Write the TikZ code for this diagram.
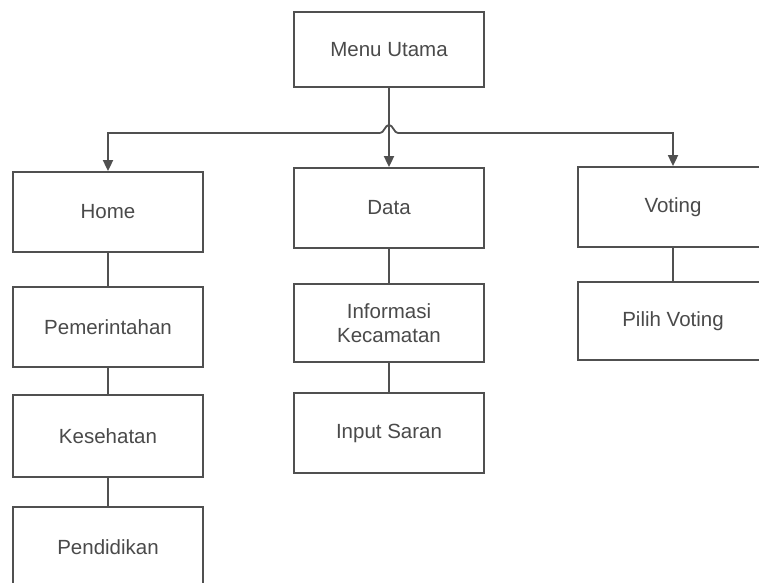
\documentclass[tikz,border=0pt]{standalone}
\usepackage{fontspec}
\setmainfont{Liberation Sans}
\usetikzlibrary{arrows.meta}
\definecolor{inkline}{HTML}{505050}
\definecolor{inktext}{HTML}{4A4A4A}
\begin{document}
\begin{tikzpicture}[x=1pt,y=-1pt,
  menubox/.style={draw=inkline,line width=1.8pt,rectangle,minimum width=190pt,
    minimum height=80pt,inner sep=0pt,text=inktext,align=center,
    font=\fontsize{20.5}{24}\selectfont},
  link/.style={draw=inkline,line width=1.8pt},
  tip/.style={-{Triangle[length=11pt,width=10pt]}}]
\useasboundingbox (0,0) rectangle (759,582);
\fill[white] (0,0) rectangle (759,582);

% top level
\node[menubox,minimum height=75pt] (menu) at (389,49.5) {Menu Utama};

% Home column
\node[menubox] (home) at (108,212) {Home};
\node[menubox] (pem)  at (108,327) {Pemerintahan};
\node[menubox,minimum height=82pt] (kes) at (108,436) {Kesehatan};
\node[menubox] (pend) at (108,547) {Pendidikan};

% Data column
\node[menubox] (data) at (389,208) {Data};
\node[menubox,minimum height=78pt] (info) at (389,323) {Informasi\\Kecamatan};
\node[menubox] (saran) at (389,433) {Input Saran};

% Voting column
\node[menubox] (vote) at (673,207) {Voting};
\node[menubox,minimum height=78pt] (pilih) at (673,321) {Pilih Voting};

% distribution line with a hop over the central drop
\coordinate (hl) at (380,133);
\coordinate (hr) at (398,133);
\draw[link,tip] (menu.south) -- (data.north);
\draw[link,tip] (hl) -- (home.north |- hl) -- (home.north);
\draw[link,tip] (hr) -- (vote.north |- hr) -- (vote.north);
\draw[link] (hl) .. controls (384,133) and (385,125) .. (389,125)
  .. controls (393,125) and (394,133) .. (hr);

% column links
\draw[link] (home.south) -- (pem.north);
\draw[link] (pem.south) -- (kes.north);
\draw[link] (kes.south) -- (pend.north);
\draw[link] (data.south) -- (info.north);
\draw[link] (info.south) -- (saran.north);
\draw[link] (vote.south) -- (pilih.north);
\end{tikzpicture}
\end{document}
